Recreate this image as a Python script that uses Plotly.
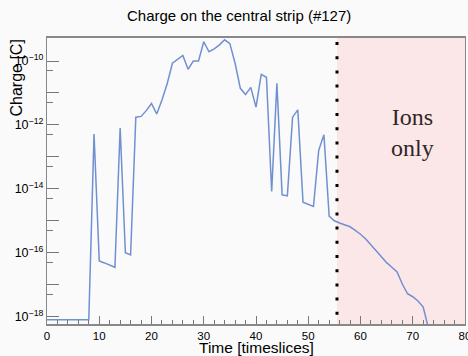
import plotly.graph_objects as go

# ---------------- data ----------------
time_slices = list(range(0, 74))
charge = [
    8e-19, 8e-19, 8e-19, 8e-19, 8e-19, 8e-19, 8e-19, 8e-19, 8e-19,   # 0-8
    5.2e-13, 5.5e-17, 4.8e-17, 4.1e-17, 3.5e-17,                      # 9-13
    8e-13, 1.0e-16, 8.5e-17, 1.75e-12, 1.85e-12, 2.8e-12,            # 14-19
    4.7e-12, 2.2e-12, 6e-12, 1.95e-11, 8.5e-11, 1.15e-10,            # 20-25
    1.5e-10, 5.5e-11, 1.0e-10, 1.0e-10, 4.0e-10, 1.95e-10,           # 26-31
    2.4e-10, 3.2e-10, 4.6e-10, 3.5e-10, 8.5e-11, 1.4e-11,            # 32-37
    8.9e-12, 1.5e-11, 3.6e-12, 3.8e-11, 3.1e-11, 8.3e-15,            # 38-43
    2.0e-11, 6.5e-15, 6.0e-15, 1.75e-12, 2.95e-12, 3.8e-15,          # 44-49
    3.3e-15, 2.8e-15, 1.6e-13, 4.9e-13, 1.4e-15, 1.0e-15,            # 50-55
    8.5e-16, 7.5e-16, 6.5e-16, 5.0e-16, 3.8e-16, 2.7e-16,            # 56-61
    1.7e-16, 1.15e-16, 7.5e-17, 4.9e-17, 3.5e-17, 2.5e-17,           # 62-67
    1.05e-17, 5.2e-18, 4.2e-18, 3.1e-18, 2.0e-18, 4.4e-19,           # 68-73
]

ions_start = 55.5
x_end = 80

x_tick_vals = [0, 10, 20, 30, 40, 50, 60, 70, 80]
y_tick_vals = [1e-18, 1e-17, 1e-16, 1e-15, 1e-14, 1e-13, 1e-12, 1e-11, 1e-10]
y_tick_text = ["10<sup>−18</sup>", "", "10<sup>−16</sup>", "", "10<sup>−14</sup>", "",
               "10<sup>−12</sup>", "", "10<sup>−10</sup>"]
y_minor_vals = [5e-19, 5e-18, 5e-17, 5e-16, 5e-15, 5e-14, 5e-13, 5e-12, 5e-11, 5e-10]

# ---------------- figure ----------------
W, H = 468, 356
ML, MR, MT, MB = 47, 2.5, 38, 32
pw = W - ML - MR
ph = H - MT - MB

fig = go.Figure()
fig.add_trace(go.Scatter(
    x=time_slices, y=charge, mode="lines",
    line=dict(color="#7090d2", width=1.5),
    showlegend=False, hoverinfo="skip",
))

# ions-only shaded region
fig.add_shape(type="rect", xref="x", yref="paper",
              x0=ions_start, x1=x_end, y0=0, y1=1,
              fillcolor="#fbe7e7", line=dict(width=0), layer="below")
# dotted separator
fig.add_shape(type="line", xref="x", yref="paper",
              x0=ions_start, x1=ions_start, y0=1, y1=0,
              line=dict(color="black", width=3, dash="0px,4px,3px,7.2px"),
              layer="above")

fig.update_xaxes(
    range=[0, x_end], tickmode="array", tickvals=x_tick_vals,
    ticks="inside", ticklen=8, tickwidth=1, tickcolor="#777",
    minor=dict(dtick=2, tick0=0, ticks="inside", ticklen=4, tickcolor="#777", tickwidth=1),
    showline=True, linecolor="#888", linewidth=1.5, mirror=True,
    showgrid=False, zeroline=False,
    tickfont=dict(family="Liberation Sans, Arial, sans-serif", size=11.5, color="black"),
    automargin=False, ticklabeloverflow="allow",
)
fig.update_yaxes(
    type="log", range=[-18.23, -9.28],
    tickmode="array", tickvals=y_tick_vals, ticktext=y_tick_text,
    ticks="inside", ticklen=12, tickwidth=1, tickcolor="#777",
    minor=dict(tickmode="array", tickvals=y_minor_vals, ticks="inside",
               ticklen=6, tickcolor="#777", tickwidth=1),
    showline=True, linecolor="#888", linewidth=1.2, mirror=True,
    showgrid=False, zeroline=False,
    tickfont=dict(family="Liberation Sans, Arial, sans-serif", size=12.5, color="black"),
    automargin=False, ticklabeloverflow="allow",
)

fig.add_annotation(text="Charge on the central strip (#127)",
                   xref="paper", yref="paper",
                   x=(239 - ML) / pw, y=(H - 15 - MB) / ph,
                   xanchor="center", yanchor="middle", showarrow=False,
                   font=dict(family="Liberation Sans, Arial, sans-serif", size=15, color="black"))
fig.add_annotation(text="Charge [C]", textangle=-90,
                   xref="paper", yref="paper",
                   x=(16 - ML) / pw, y=1.0,
                   xanchor="center", yanchor="top", showarrow=False,
                   font=dict(family="Liberation Sans, Arial, sans-serif", size=16, color="black"))
fig.add_annotation(text="Time [timeslices]",
                   xref="paper", yref="paper",
                   x=(256.5 - ML) / pw, y=(H - 347.5 - MB) / ph,
                   xanchor="center", yanchor="middle", showarrow=False,
                   font=dict(family="Liberation Sans, Arial, sans-serif", size=15.5, color="black"))
fig.add_annotation(text="Ions<br>only",
                   xref="paper", yref="paper",
                   x=(413 - ML) / pw, y=(H - 132 - MB) / ph,
                   xanchor="center", yanchor="middle", showarrow=False,
                   font=dict(family="Liberation Serif, Times New Roman, serif", size=24, color="#332626"))

fig.update_layout(
    width=W, height=H,
    margin=dict(l=ML, r=MR, t=MT, b=MB, pad=0),
    paper_bgcolor="#fafafa", plot_bgcolor="#fafafa",
    showlegend=False,
)

fig.write_html("out.html")
